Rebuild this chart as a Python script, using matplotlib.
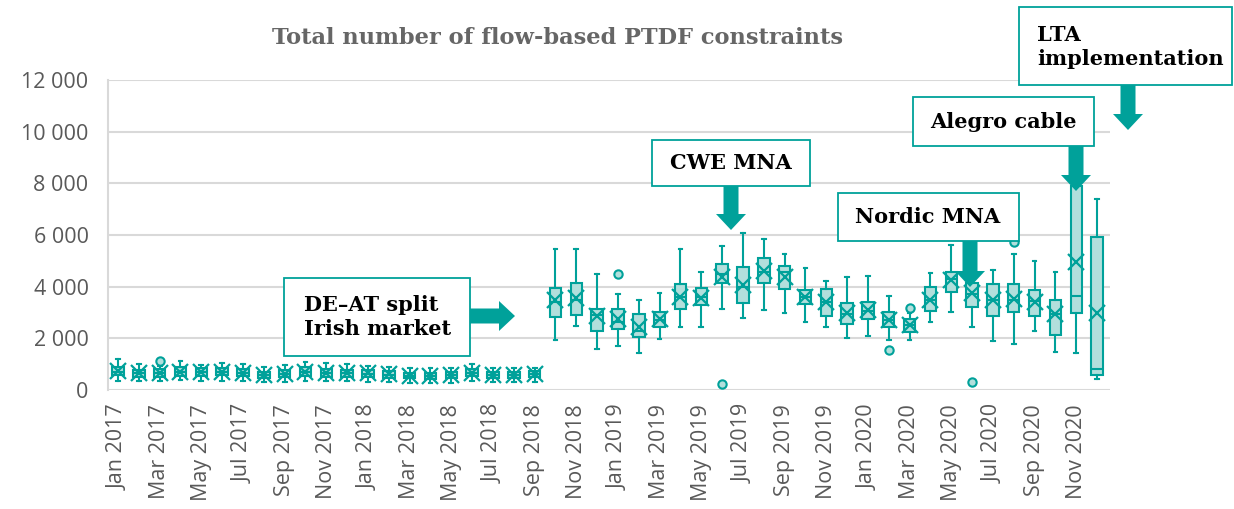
import matplotlib
matplotlib.use("Agg")
import matplotlib.pyplot as plt
from matplotlib.patches import Rectangle, FancyArrow
from matplotlib.ticker import FuncFormatter
import pandas as pd

# ---------------- data ----------------
months = [d.strftime("%b %Y") for d in pd.date_range("2017-01-01", periods=48, freq="MS")]

whis_hi = [1190, 1010, 930, 1140, 970, 1060, 1010, 900, 970, 1100, 1060, 1010, 930, 900, 840, 840, 870, 1010, 870, 840, 840,
           5450, 5460, 4480, 3700, 3480, 3740, 5460, 4580, 5590, 6070, 5850, 5270, 4710, 4220, 4390, 4410, 3640, 2970,
           4540, 5610, 4650, 4650, 5270, 5010, 4560, 8000, 7390]
q3 = [880, 790, 800, 880, 850, 870, 820, 700, 760, 880, 800, 780, 770, 740, 660, 660, 700, 820, 700, 700, 740,
      3960, 4150, 3140, 3120, 2940, 3030, 4090, 3960, 4870, 4770, 5100, 4810, 3870, 3900, 3360, 3420, 3030, 2750,
      3970, 4560, 4130, 4090, 4100, 3870, 3480, 7900, 5940]
median = [710, 640, 650, 710, 700, 700, 660, 590, 610, 700, 640, 640, 630, 600, 550, 540, 580, 660, 570, 580, 610,
          3400, 3500, 2900, 2650, 2300, 2700, 3600, 3600, 4500, 4000, 4550, 4550, 3600, 3400, 2950, 3050, 2700, 2500,
          3500, 4300, 3700, 3500, 3500, 3450, 2950, 3640, 810]
q1 = [570, 510, 520, 560, 560, 570, 530, 480, 490, 560, 510, 510, 500, 480, 450, 440, 470, 530, 460, 460, 500,
      2810, 2900, 2280, 2360, 2040, 2430, 3140, 3290, 4130, 3380, 4160, 3910, 3320, 2880, 2540, 2740, 2450, 2260,
      3070, 3810, 3200, 2880, 3030, 2870, 2130, 2970, 580]
whis_lo = [360, 330, 330, 380, 360, 350, 330, 300, 310, 360, 330, 330, 320, 300, 260, 260, 290, 340, 300, 300, 310,
           1940, 2480, 1590, 1700, 1420, 1960, 2430, 2430, 3120, 2800, 3100, 2990, 2650, 2450, 2000, 2090, 1940, 1940,
           2620, 3010, 2450, 1910, 1780, 2280, 1460, 1420, 410]
mean = [720, 650, 660, 710, 700, 710, 670, 590, 620, 700, 650, 640, 640, 610, 550, 550, 590, 670, 580, 580, 620,
        3480, 3550, 2870, 2740, 2430, 2740, 3610, 3570, 4390, 4070, 4620, 4360, 3590, 3420, 2970, 3100, 2710, 2520,
        3480, 4260, 3740, 3480, 3520, 3420, 2940, 4970, 2990]
outliers = {"Mar 2017": [1120], "Jan 2019": [4490], "Jun 2019": [230], "Feb 2020": [1530],
            "Mar 2020": [3190], "Jun 2020": [320], "Aug 2020": [5720]}

yticks = [0, 2000, 4000, 6000, 8000, 10000, 12000]
title = "Total number of flow-based PTDF constraints"
annotations = [
    ("DE\u2013AT split\nIrish market", (284, 278, 186, 78), "left", (304, 317), (470, 316, 45, 0)),
    ("CWE MNA", (652, 140, 158, 46), "center", (731, 163), (731, 186, 0, 44)),
    ("Nordic MNA", (838, 193, 181, 48), "center", (928, 217), (970, 241, 0, 46)),
    ("Alegro cable", (913, 97, 181, 49), "center", (1003, 122), (1076, 146, 0, 45)),
    ("LTA\nimplementation", (1019, 7, 213, 78), "left", (1037, 47), (1128, 85, 0, 45)),
]

# ---------------- style ----------------
TEAL = "#00a19a"
FILL = "#b2dfdc"
GRID = "#d9d9d9"
TXT = "#595959"
W, H = 1234, 509

fig = plt.figure(figsize=(W / 100, H / 100), dpi=100)
fig.patch.set_facecolor("white")
ax = fig.add_axes([108 / W, 1 - 390 / H, (1110 - 108) / W, (390 - 80) / H])

stats = []
for i, m in enumerate(months):
    stats.append(dict(label=m, med=median[i], q1=q1[i], q3=q3[i], whislo=whis_lo[i],
                      whishi=whis_hi[i], mean=mean[i], fliers=outliers.get(m, [])))

positions = list(range(len(months)))
ax.bxp(stats, positions=positions, widths=0.55, showmeans=True, meanline=False,
       patch_artist=True, capwidths=0.18,
       boxprops=dict(facecolor=FILL, edgecolor=TEAL, linewidth=1.5),
       medianprops=dict(color=TEAL, linewidth=1.5),
       whiskerprops=dict(color=TEAL, linewidth=1.5),
       capprops=dict(color=TEAL, linewidth=1.5),
       meanprops=dict(marker="x", markeredgecolor=TEAL, markersize=11, markeredgewidth=1.6),
       flierprops=dict(marker="o", markerfacecolor=FILL, markeredgecolor=TEAL, markersize=6,
                       markeredgewidth=1.5))

ax.set_xlim(-0.48, 47.62)
ax.set_ylim(0, 12000)
ax.set_yticks(yticks)
ax.yaxis.set_major_formatter(FuncFormatter(lambda v, p: f"{int(v):,}".replace(",", " ")))
ax.set_xticks(positions[::2])
ax.set_xticklabels(months[::2], rotation=90, va="top", ha="center")
ax.tick_params(axis="both", length=0, labelsize=15.5, labelcolor=TXT)
ax.tick_params(axis="y", pad=14)
ax.tick_params(axis="x", pad=10)
for lab in ax.get_xticklabels() + ax.get_yticklabels():
    lab.set_fontfamily("Open Sans")
ax.grid(axis="y", color=GRID, linewidth=1.5)
ax.set_axisbelow(True)
for s in ["top", "right", "bottom"]:
    ax.spines[s].set_visible(False)
ax.spines["left"].set_color(GRID)
ax.spines["left"].set_linewidth(1.5)

fig.text(558 / W, 1 - 38 / H, title, ha="center", va="center", fontsize=16.2,
         fontweight="bold", family="DejaVu Serif", color="#666666")

# overlay in pixel coordinates for callouts
ov = fig.add_axes([0, 0, 1, 1])
ov.set_xlim(0, W)
ov.set_ylim(H, 0)
ov.axis("off")
ov.patch.set_alpha(0)
for text, (bx, by, bw, bh), ha, (tx, ty), (axx, ayy, dx, dy) in annotations:
    ov.add_patch(Rectangle((bx, by), bw, bh, facecolor="white", edgecolor=TEAL, linewidth=1.3, zorder=3))
    ov.text(tx, ty, text, ha=ha, va="center", fontsize=15, fontweight="bold",
            family="DejaVu Serif", color="black", linespacing=1.3, zorder=4)
    ov.add_patch(FancyArrow(axx, ayy, dx, dy, width=15, head_width=30, head_length=16,
                            length_includes_head=True, facecolor=TEAL, edgecolor="none", zorder=3))

fig.savefig("out.png", dpi=100)
